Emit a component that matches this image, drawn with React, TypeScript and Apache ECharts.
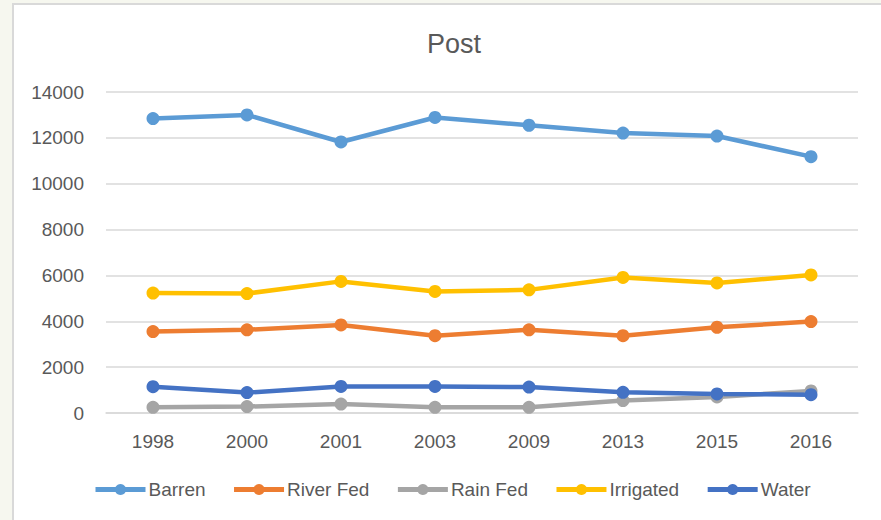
import React, { useEffect, useRef } from "react";
import * as echarts from "echarts";

const years = ["1998", "2000", "2001", "2003", "2009", "2013", "2015", "2016"];
const barren = [12840, 13000, 11820, 12890, 12550, 12210, 12080, 11180];
const riverFed = [3550, 3630, 3840, 3370, 3630, 3370, 3740, 3990];
const rainFed = [250, 280, 390, 250, 250, 540, 700, 960];
const irrigated = [5230, 5210, 5740, 5300, 5370, 5910, 5670, 6020];
const water = [1150, 890, 1160, 1160, 1130, 900, 830, 800];

const seriesNames = ["Barren", "River Fed", "Rain Fed", "Irrigated", "Water"];
const seriesColors = ["#5B9BD5", "#ED7D31", "#A5A5A5", "#FFC000", "#4472C4"];
const seriesData = [barren, riverFed, rainFed, irrigated, water];

const FONT = "'Liberation Sans', Arial, sans-serif";

export default function App() {
  const ref = useRef<HTMLDivElement>(null);
  useEffect(() => {
    if (!ref.current) return;
    const chart = echarts.init(ref.current, null, { renderer: "svg" });
    chart.setOption({
      animation: false,
      backgroundColor: "#f6f7ef",
      textStyle: { fontFamily: FONT },
      graphic: [
        {
          type: "rect",
          z: -10,
          silent: true,
          shape: { x: 13, y: 4, width: 880, height: 530 },
          style: { fill: "#ffffff", stroke: "#d9d9d9", lineWidth: 2 },
        },
      ],
      title: {
        text: "Post",
        left: 449,
        top: 25,
        textAlign: "center",
        textStyle: { fontFamily: FONT, fontSize: 27, fontWeight: "normal", color: "#595959" },
      },
      legend: {
        left: 93,
        top: 480,
        padding: 0,
        itemWidth: 50,
        itemHeight: 14,
        itemGap: 26,
        lineStyle: { width: 5 },
        textStyle: { fontFamily: FONT, fontSize: 19, color: "#595959", padding: [0, 0, 0, -2] },
        data: seriesNames,
      },
      grid: { left: 106, right: 23, top: 92, bottom: 107, containLabel: false },
      xAxis: {
        type: "category",
        data: years,
        boundaryGap: true,
        axisLine: { show: true, lineStyle: { color: "#d9d9d9", width: 1.5 } },
        axisTick: { show: false },
        axisLabel: { color: "#595959", fontSize: 19, fontFamily: FONT, margin: 19 },
      },
      yAxis: {
        type: "value",
        min: 0,
        max: 14000,
        interval: 2000,
        axisLine: { show: false },
        axisTick: { show: false },
        axisLabel: {
          color: "#595959",
          fontSize: 19,
          fontFamily: FONT,
          margin: 22,
          formatter: (v: number) => String(v),
        },
        splitLine: { lineStyle: { color: "#d9d9d9", width: 1.5 } },
      },
      series: seriesNames.map((name, i) => ({
        name,
        type: "line",
        data: seriesData[i],
        color: seriesColors[i],
        lineStyle: { width: 4.5, color: seriesColors[i] },
        itemStyle: { color: seriesColors[i] },
        symbol: "circle",
        symbolSize: 13,
        showSymbol: true,
      })),
    });
    return () => chart.dispose();
  }, []);
  return (
    <div
      ref={ref}
      style={{ position: "fixed", left: 0, top: 0, width: 881, height: 520 }}
    />
  );
}
